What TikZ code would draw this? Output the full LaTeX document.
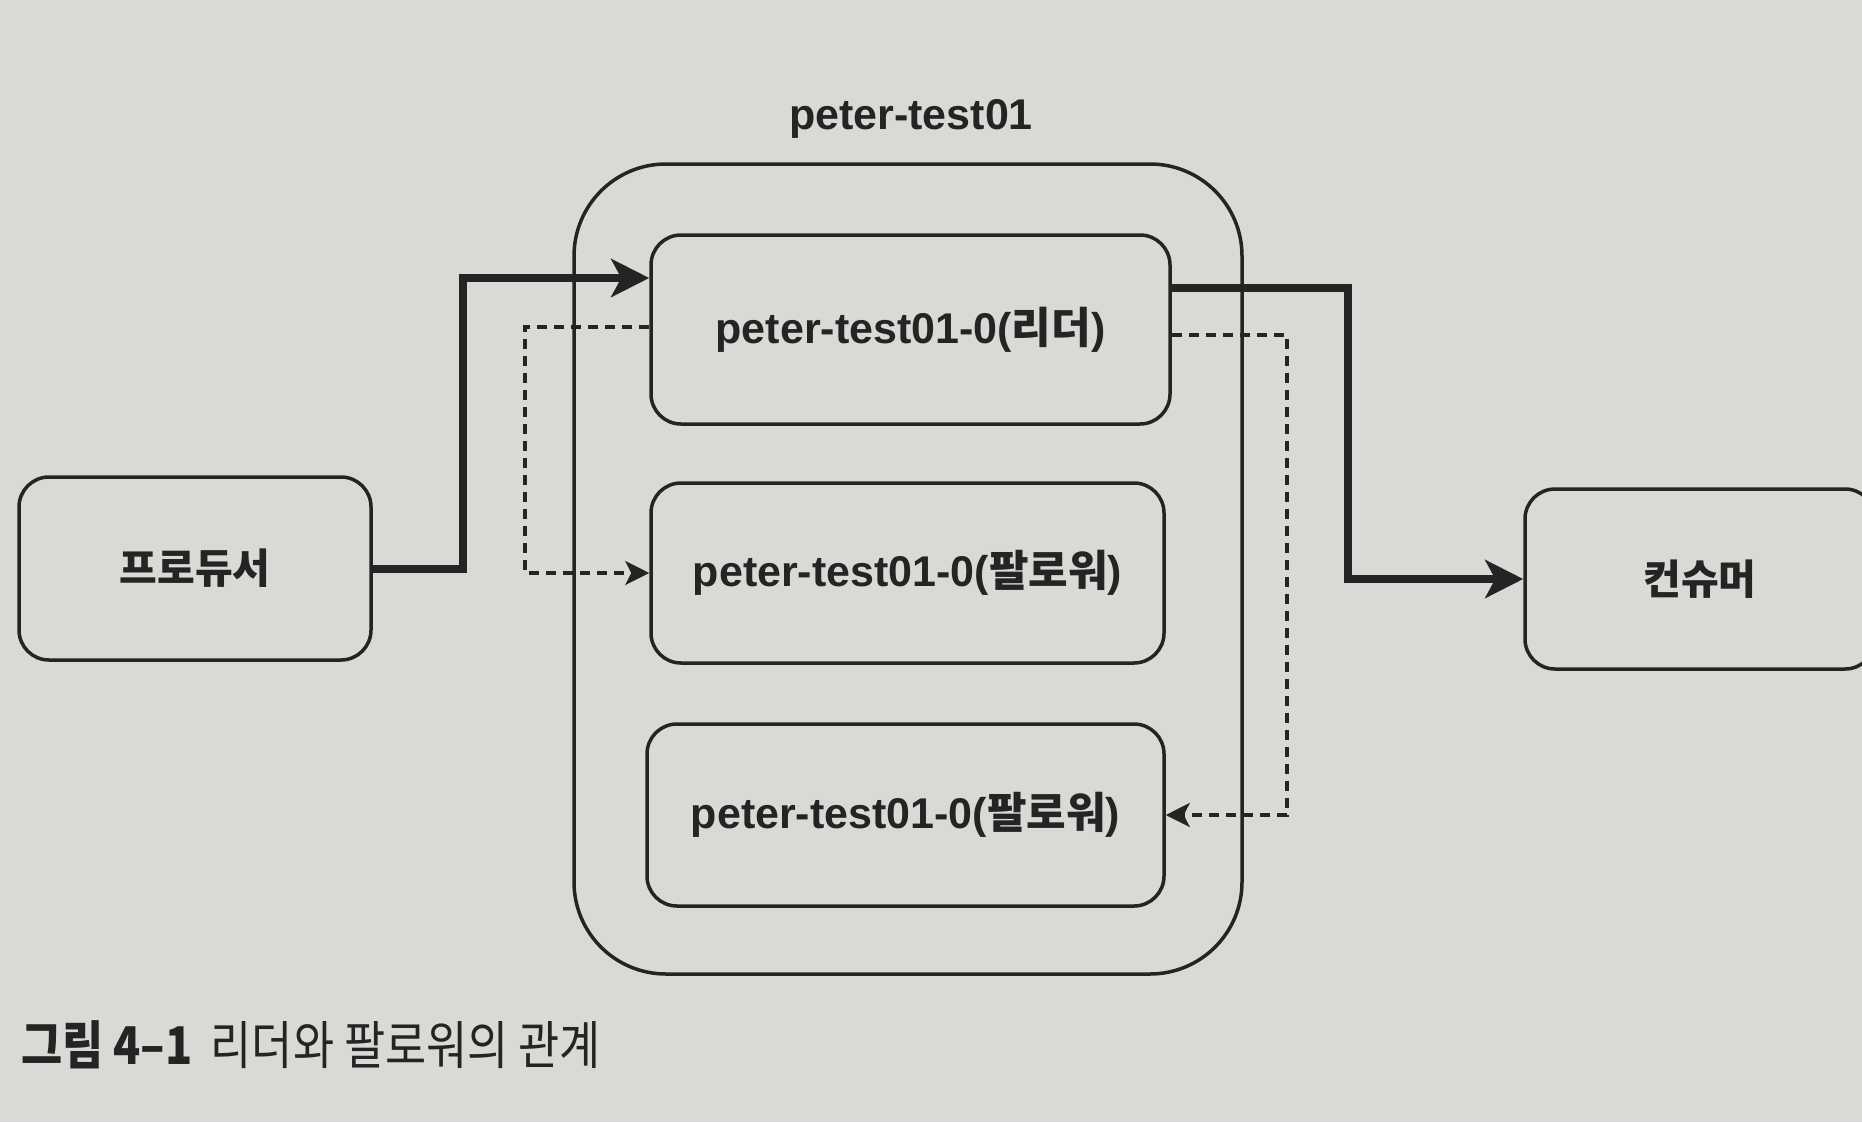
\documentclass[tikz,border=0pt]{standalone}
\usepackage{fontspec}
\setmainfont{Liberation Sans}
\newfontfamily\kr{Noto Sans CJK KR}
\newfontfamily\krc{Noto Sans CJK KR}[FakeStretch=0.86]
\usetikzlibrary{arrows.meta}
\definecolor{paper}{RGB}{216,218,214}
\definecolor{ink}{RGB}{36,36,36}
\begin{document}
\begin{tikzpicture}[x=1pt,y=-1pt,
  box/.style={draw=ink,line width=3.5pt,rounded corners=30pt,inner sep=0pt,
    text=ink,font=\fontsize{43}{48}\selectfont\bfseries},
  group/.style={draw=ink,line width=3.5pt,rounded corners=92pt,inner sep=0pt},
  flow/.style={draw=ink,line width=8pt,line join=miter,
    -{Stealth[length=38pt,width=38pt,inset=10pt]}},
  copyline/.style={draw=ink,line width=3.2pt,dash pattern=on 10pt off 7pt,
    -{Stealth[length=24pt,width=24pt,inset=6pt]}},
  label/.style={text=ink,inner sep=0pt}]
\useasboundingbox (0,0) rectangle (1862,1122);
\clip (0,0) rectangle (1862,1122);
\fill[paper] (0,0) rectangle (1862,1122);

% group box
\node[group,minimum width=668pt,minimum height=810pt] (topic) at (908,569) {};
\node[label,font=\fontsize{43}{48}\selectfont\bfseries] (title) at (911,119) {peter-test01};

% partitions
\node[box,minimum width=519pt,minimum height=189pt] (leader) at (910.5,329.5)
  {peter-test01-0({\kr 리더})};
\node[box,minimum width=513pt,minimum height=180pt] (f1) at (907.5,573)
  {peter-test01-0({\kr 팔로워})};
\node[box,minimum width=517pt,minimum height=182pt] (f2) at (905.5,815)
  {peter-test01-0({\kr 팔로워})};

% producer / consumer
\node[box,minimum width=352pt,minimum height=183pt,font=\kr\fontsize{41}{48}\selectfont\bfseries] (producer) at (195,568.5) {프로듀서};
\node[box,minimum width=350pt,minimum height=180pt,font=\kr\fontsize{41}{48}\selectfont\bfseries] (consumer) at (1700,579) {컨슈머};

% routing coordinates
\coordinate (p1) at (463,0);
\coordinate (p2) at (1348,0);
\coordinate (d1) at (525,0);
\coordinate (d2) at (1287,0);

% thick flow arrows
\draw[flow] (producer.east) -- (producer.east -| p1) |- ([yshift=51.5pt]leader.west);
\draw[flow] ([yshift=41.5pt]leader.east) -| (p2 |- consumer.west) -- (consumer.west);

% dashed replication arrows
\draw[copyline] ([yshift=2.5pt]leader.west) -| (d1 |- f1.west) -- (f1.west);
\draw[copyline] ([yshift=-5.5pt]leader.east) -| (d2 |- f2.east) -- (f2.east);

% caption
\node[label,anchor=west,font=\krc\fontsize{52}{58}\selectfont] (caption) at (21,1045)
  {{\bfseries 그림 4–1}\hspace{18pt}리더와 팔로워의 관계};
\end{tikzpicture}
\end{document}
